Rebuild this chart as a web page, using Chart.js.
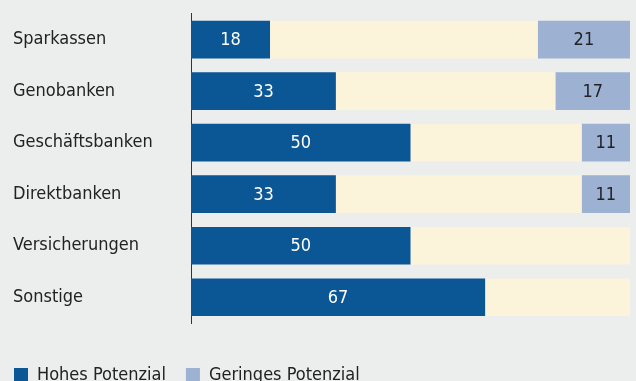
<!DOCTYPE html>
<html>
<head>
<meta charset="utf-8">
<script src="https://cdn.jsdelivr.net/npm/chart.js@4/dist/chart.umd.min.js"></script>
<style>
  html, body { margin: 0; padding: 0; background: #eceded; }
  #wrap { width: 636px; height: 381px; }
</style>
</head>
<body>
<div id="wrap"><canvas id="myChart"></canvas></div>
<script>
const categories = ["Sparkassen", "Genobanken", "Geschäftsbanken", "Direktbanken", "Versicherungen", "Sonstige"];
const hohes = [18, 33, 50, 33, 50, 67];
const mittel = [61, 50, 39, 56, 50, 33];
const geringes = [21, 17, 11, 11, 0, 0];

const fontFamily = "'Liberation Sans Narrow', 'DejaVu Sans Condensed', sans-serif";

// labels inside the bars, skipping the middle band and empty values
const valueLabels = {
    id: 'valueLabels',
    afterDatasetsDraw(chart) {
        const ctx = chart.ctx;
        ctx.save();
        ctx.font = "18px " + fontFamily;
        ctx.textAlign = "center";
        ctx.textBaseline = "middle";
        chart.data.datasets.forEach((ds, i) => {
            if (ds.noLabel) return;
            chart.getDatasetMeta(i).data.forEach((bar, j) => {
                const v = ds.data[j];
                if (!v) return;
                ctx.fillStyle = ds.labelColor;
                ctx.fillText(v, (bar.x + bar.base) / 2, bar.y + 1);
            });
        });
        ctx.restore();
    }
};

// move the left aligned category labels in from the edge
const shiftLabels = {
    id: 'shiftLabels',
    afterLayout(chart) {
        chart.scales.y.left = 13;
    }
};

const ctx = document.getElementById('myChart');
const myChart = new Chart(ctx, {
    type: "bar",
    data: {
        labels: categories,
        datasets: [{
            label: "Hohes Potenzial",
            data: hohes,
            backgroundColor: "#0b5694",
            labelColor: "#ffffff"
        }, {
            label: "",
            data: mittel,
            backgroundColor: "#fbf4da",
            noLabel: true
        }, {
            label: "Geringes Potenzial",
            data: geringes,
            backgroundColor: "#9db1d2",
            labelColor: "#222222"
        }]
    },
    options: {
        indexAxis: 'y',
        responsive: true,
        maintainAspectRatio: false,
        animation: false,
        layout: {
            padding: {left: -6, right: 6, top: 9, bottom: -13}
        },
        datasets: {
            bar: {
                barPercentage: 0.73,
                categoryPercentage: 1,
                borderWidth: 0
            }
        },
        plugins: {
            legend: {
                position: 'bottom',
                align: 'start',
                labels: {
                    filter: item => item.text !== "",
                    boxWidth: 14,
                    boxHeight: 14,
                    padding: 20,
                    color: "#222222",
                    font: {family: fontFamily, size: 18}
                }
            },
            tooltip: {enabled: false}
        },
        scales: {
            x: {
                stacked: true,
                min: 0,
                max: 100,
                grid: {display: false},
                border: {display: false},
                ticks: {display: false},
                afterFit: scale => { scale.height = 23; }
            },
            y: {
                stacked: true,
                grid: {display: false},
                border: {display: true, color: "#333333", width: 1},
                ticks: {
                    crossAlign: 'far',
                    color: "#222222",
                    font: {family: fontFamily, size: 18}
                },
                afterFit: scale => { scale.width = 197; }
            }
        }
    },
    plugins: [valueLabels, shiftLabels]
});
</script>
</body>
</html>
